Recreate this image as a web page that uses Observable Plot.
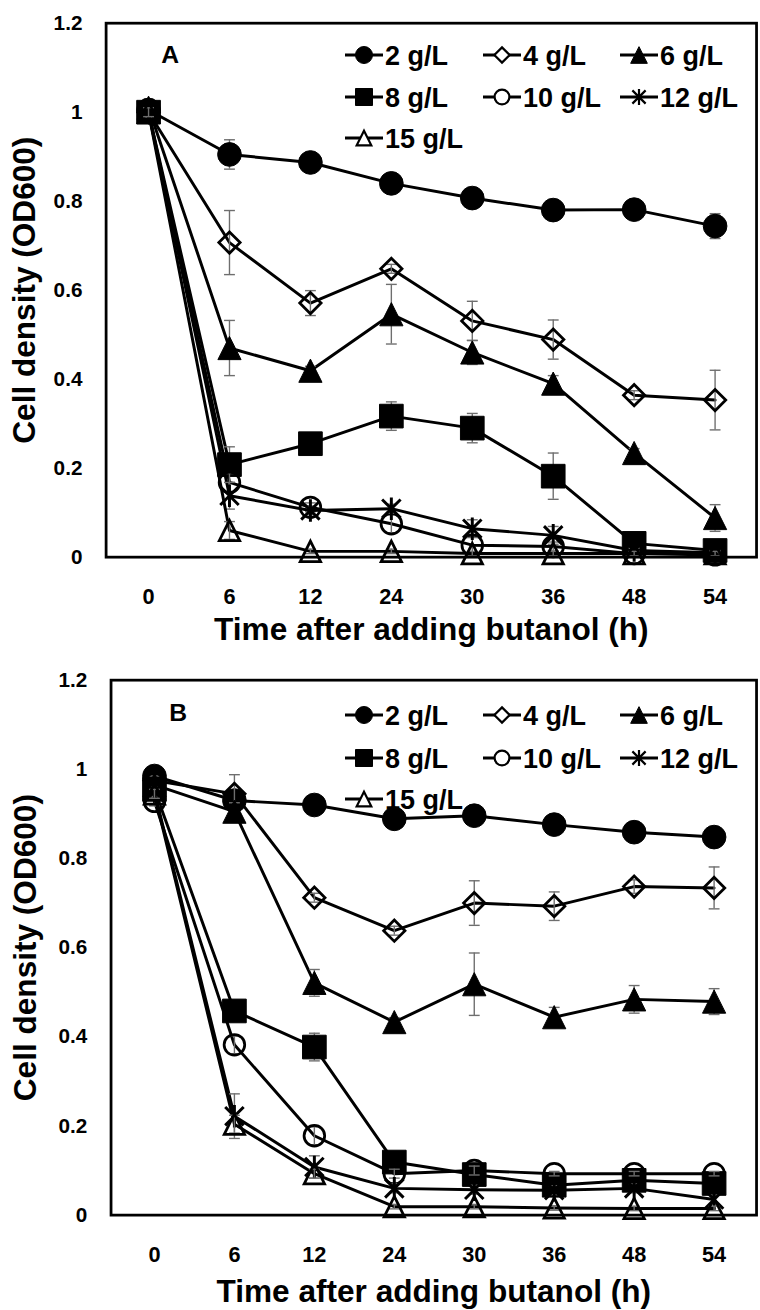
<!DOCTYPE html>
<html>
<head>
<meta charset="utf-8">
<script src="https://cdn.jsdelivr.net/npm/d3@7"></script>
<script src="https://cdn.jsdelivr.net/npm/@observablehq/plot@0.6"></script>
<style>
  html, body { margin: 0; padding: 0; background: #fff; }
  .panel { position: relative; width: 760px; height: 655px; overflow: hidden; }
  .panel svg { display: block; }
</style>
</head>
<body>
<div id="panelA" class="panel"></div>
<div id="panelB" class="panel"></div>
<script>
// Sampling times after butanol addition (h) and butanol concentrations
const times = ["0", "6", "12", "24", "30", "36", "48", "54"];
const concentrations = ["2 g/L", "4 g/L", "6 g/L", "8 g/L", "10 g/L", "12 g/L", "15 g/L"];

const yTicks = [0, 0.2, 0.4, 0.6, 0.8, 1, 1.2];
const yTickLabels = ["0", "0.2", "0.4", "0.6", "0.8", "1", "1.2"];

const xTitle = "Time after adding butanol (h)";
const yTitle = "Cell density (OD600)";

// Panel A: mean OD600 per concentration
const meanA2  = [1.005, 0.905, 0.887, 0.840, 0.807, 0.780, 0.781, 0.744];
const meanA4  = [1.000, 0.707, 0.571, 0.648, 0.531, 0.489, 0.364, 0.353];
const meanA6  = [1.010, 0.470, 0.419, 0.546, 0.460, 0.390, 0.234, 0.088];
const meanA8  = [1.000, 0.208, 0.255, 0.317, 0.290, 0.182, 0.031, 0.015];
const meanA10 = [1.000, 0.168, 0.112, 0.075, 0.027, 0.024, 0.008, 0.005];
const meanA12 = [1.000, 0.138, 0.105, 0.109, 0.064, 0.049, 0.015, 0.010];
const meanA15 = [1.000, 0.060, 0.013, 0.013, 0.008, 0.008, 0.008, 0.008];

// Panel A: standard deviations
const errA2  = [0.010, 0.033, 0.010, 0.010, 0.010, 0.010, 0.010, 0.028];
const errA4  = [0.010, 0.072, 0.028, 0.010, 0.044, 0.044, 0.010, 0.067];
const errA6  = [0.010, 0.062, 0.010, 0.067, 0.027, 0.018, 0.010, 0.030];
const errA8  = [0.010, 0.040, 0.010, 0.032, 0.033, 0.052, 0.010, 0.010];
const errA10 = [0.010, 0.020, 0.010, 0.020, 0.020, 0.010, 0.005, 0.005];
const errA12 = [0.010, 0.030, 0.010, 0.010, 0.020, 0.020, 0.005, 0.005];
const errA15 = [0.010, 0.020, 0.005, 0.005, 0.005, 0.005, 0.005, 0.005];

// Panel B: mean OD600 per concentration
const meanB2  = [0.985, 0.930, 0.920, 0.889, 0.896, 0.876, 0.859, 0.848];
const meanB4  = [0.975, 0.945, 0.712, 0.638, 0.700, 0.693, 0.737, 0.734];
const meanB6  = [0.965, 0.905, 0.521, 0.433, 0.518, 0.444, 0.484, 0.479];
const meanB8  = [0.955, 0.458, 0.377, 0.119, 0.091, 0.067, 0.078, 0.071];
const meanB10 = [0.928, 0.382, 0.178, 0.093, 0.100, 0.093, 0.093, 0.093];
const meanB12 = [0.950, 0.222, 0.108, 0.060, 0.057, 0.056, 0.060, 0.035];
const meanB15 = [0.945, 0.204, 0.093, 0.019, 0.019, 0.016, 0.015, 0.015];

// Panel B: standard deviations
const errB2  = [0.010, 0.010, 0.010, 0.010, 0.010, 0.010, 0.010, 0.010];
const errB4  = [0.010, 0.043, 0.010, 0.010, 0.050, 0.032, 0.015, 0.047];
const errB6  = [0.010, 0.020, 0.030, 0.010, 0.070, 0.022, 0.031, 0.029];
const errB8  = [0.010, 0.010, 0.031, 0.010, 0.010, 0.010, 0.010, 0.010];
const errB10 = [0.010, 0.020, 0.020, 0.010, 0.010, 0.005, 0.005, 0.005];
const errB12 = [0.010, 0.050, 0.025, 0.010, 0.010, 0.010, 0.010, 0.010];
const errB15 = [0.010, 0.020, 0.010, 0.005, 0.005, 0.005, 0.005, 0.005];

const FONT = "'Liberation Sans', Arial, Helvetica, sans-serif";

// Marker shapes; the size argument is an area, r is the nominal half-extent
const rad = (size) => Math.sqrt(size / Math.PI);
const symFilledCircle = { draw(c, s) { const r = rad(s); c.moveTo(r, 0); c.arc(0, 0, r, 0, 2 * Math.PI); } };
const symOpenCircle = { draw(c, s) { const r = rad(s) * 0.87; c.moveTo(r, 0); c.arc(0, 0, r, 0, 2 * Math.PI); } };
const symDiamond = { draw(c, s) { const r = rad(s) * 0.9; c.moveTo(0, -r); c.lineTo(r, 0); c.lineTo(0, r); c.lineTo(-r, 0); c.closePath(); } };
const symSquare = { draw(c, s) { const r = rad(s); c.rect(-r, -r, 2 * r, 2 * r); } };
const symTriangle = { draw(c, s) { const r = rad(s) * 0.98; c.moveTo(0, -r); c.lineTo(r, r); c.lineTo(-r, r); c.closePath(); } };
const symOpenTriangle = { draw(c, s) { const r = rad(s) * 0.86; c.moveTo(0, -r); c.lineTo(r, r); c.lineTo(-r, r); c.closePath(); } };
const symStar = { draw(c, s) { const r = rad(s) * 0.95; const u = r * 0.82;
  c.moveTo(0, -r); c.lineTo(0, r); c.moveTo(-u, -u); c.lineTo(u, u); c.moveTo(-u, u); c.lineTo(u, -u); } };
const symCap = { draw(c) { c.moveTo(-5.5, 0); c.lineTo(5.5, 0); } };

const seriesStyle = [
  { symbol: symFilledCircle, fill: "black", strokeWidth: 1 },
  { symbol: symDiamond, fill: "none", strokeWidth: 2.8 },
  { symbol: symTriangle, fill: "black", strokeWidth: 1 },
  { symbol: symSquare, fill: "black", strokeWidth: 1 },
  { symbol: symOpenCircle, fill: "none", strokeWidth: 2.8 },
  { symbol: symStar, fill: "none", strokeWidth: 3 },
  { symbol: symOpenTriangle, fill: "none", strokeWidth: 2.8 }
];

const ERR_COLOR = "#6e6e6e";
const yLabelOf = new Map(yTicks.map((t, i) => [t, yTickLabels[i]]));

function drawPanel(el, cfg) {
  const height = 655;
  const marks = [];

  cfg.means.forEach((means, s) => {
    const rows = times.map((t, i) => ({ time: t, value: means[i], err: cfg.errs[s][i] }));
    const st = seriesStyle[s];
    marks.push(
      Plot.line(rows, { x: "time", y: "value", stroke: "black", strokeWidth: 3 }),
      Plot.ruleX(rows, { x: "time", y1: d => d.value - d.err, y2: d => d.value + d.err, stroke: ERR_COLOR, strokeWidth: 1.4 }),
      Plot.dot(rows, { x: "time", y: d => d.value - d.err, symbol: symCap, r: 5, stroke: ERR_COLOR, strokeWidth: 1.4 }),
      Plot.dot(rows, { x: "time", y: d => d.value + d.err, symbol: symCap, r: 5, stroke: ERR_COLOR, strokeWidth: 1.4 }),
      Plot.dot(rows, { x: "time", y: "value", symbol: st.symbol, r: 12, fill: st.fill, stroke: "black", strokeWidth: st.strokeWidth })
    );
  });

  const chart = Plot.plot({
    width: 770,
    height,
    marginLeft: cfg.marginLeft,
    marginRight: 4,
    marginTop: cfg.marginTop,
    marginBottom: cfg.marginBottom,
    x: { type: "point", domain: times, padding: 0.5 },
    y: { domain: [0, 1.2] },
    style: { fontFamily: FONT, fontWeight: "bold", fontSize: "21px", color: "black", background: "white", overflow: "visible" },
    marks: [
      Plot.axisY({ ticks: yTicks, tickFormat: d => yLabelOf.get(d), tickSize: 0, tickPadding: 24, fontSize: 21, fontWeight: "bold", label: null }),
      Plot.axisX({ tickSize: 0, tickPadding: 32, fontSize: 22, fontWeight: "bold", label: null }),
      ...marks,
      Plot.frame({ stroke: "black", strokeWidth: 2.8 }),
      Plot.text([xTitle], { text: d => d, frameAnchor: "bottom", dy: cfg.xTitleDy, fontSize: 32, fontWeight: "bold", fill: "black", textAnchor: "middle", lineAnchor: "middle" }),
      Plot.text([yTitle], { text: d => d, frameAnchor: "left", dx: cfg.yTitleDx, rotate: -90, fontSize: 32, fontWeight: "bold", fill: "black", textAnchor: "middle", lineAnchor: "middle" }),
      Plot.text([cfg.letter], { text: d => d, frameAnchor: "top-left", dx: cfg.letterDx, dy: cfg.letterDy, fontSize: 25, fontWeight: "bold", fill: "black", textAnchor: "middle", lineAnchor: "middle" })
    ]
  });
  el.appendChild(chart);

  // Legend drawn over the plot area, three entries per row
  const legend = d3.select(el).append("svg")
    .attr("width", 760).attr("height", height)
    .style("position", "absolute").style("left", "0px").style("top", "0px")
    .attr("font-family", FONT).attr("font-weight", "bold");
  const colX = [345, 483, 620];
  concentrations.forEach((name, k) => {
    const row = Math.floor(k / 3), col = k % 3;
    const x0 = colX[col];
    const y = cfg.marginTop + cfg.legendRows[row];
    const st = seriesStyle[k];
    const g = legend.append("g");
    g.append("line").attr("x1", x0).attr("x2", x0 + 38).attr("y1", y).attr("y2", y)
      .attr("stroke", "black").attr("stroke-width", 2.8);
    g.append("path").attr("transform", `translate(${x0 + 19},${y})`)
      .attr("d", d3.symbol(st.symbol, Math.PI * 8.5 * 8.5)())
      .attr("fill", st.fill === "none" ? "white" : "black")
      .attr("stroke", "black").attr("stroke-width", st.strokeWidth === 1 ? 1 : 2.2);
    g.append("text").attr("x", x0 + 40).attr("y", y).attr("dy", "0.36em")
      .attr("font-size", 27).attr("fill", "black").text(name);
  });
}

drawPanel(document.getElementById("panelA"), {
  letter: "A",
  means: [meanA2, meanA4, meanA6, meanA8, meanA10, meanA12, meanA15],
  errs: [errA2, errA4, errA6, errA8, errA10, errA12, errA15],
  marginLeft: 107, marginTop: 23, marginBottom: 91,
  xTitleDy: 74, yTitleDx: -82,
  letterDx: 65, letterDy: 32,
  legendRows: [32, 74, 115]
});

drawPanel(document.getElementById("panelB"), {
  letter: "B",
  means: [meanB2, meanB4, meanB6, meanB8, meanB10, meanB12, meanB15],
  errs: [errB2, errB4, errB6, errB8, errB10, errB12, errB15],
  marginLeft: 112, marginTop: 25, marginBottom: 88,
  xTitleDy: 78, yTitleDx: -86,
  letterDx: 68, letterDy: 33,
  legendRows: [35, 78, 119]
});
</script>
</body>
</html>
